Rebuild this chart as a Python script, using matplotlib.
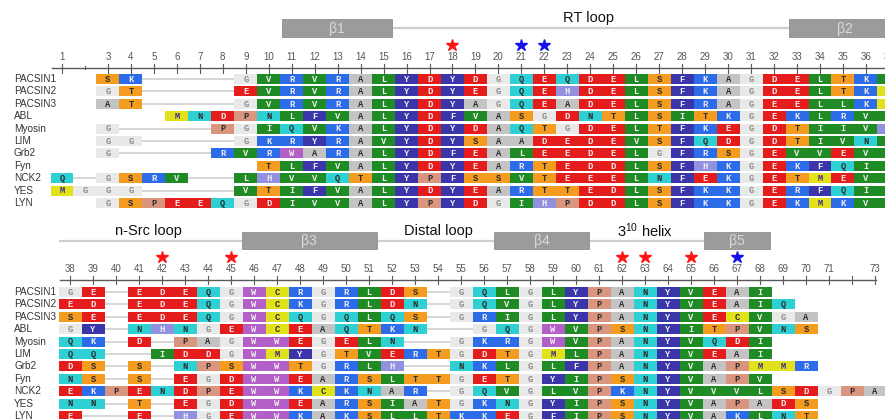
import matplotlib
matplotlib.use("Agg")
import matplotlib.pyplot as plt
from matplotlib.patches import Rectangle

plt.rcParams["mathtext.default"] = "regular"

# ---------------------------------------------------------------- data
names = ["PACSIN1", "PACSIN2", "PACSIN3", "ABL", "Myosin", "LIM",
         "Grb2", "Fyn", "NCK2", "YES", "LYN"]

# alignment columns 1-37 ('-' = gap)
seq_top = [
    "--SK----GVRVRALYDYDGQEQDELSFKAGDELTKV",
    "--GT----EVRVRALYDYEGQEHDELSFKAGDELTKC",
    "--AT----GVRVRALYDYAGQEADELSFRAGEELLKC",
    "-----MNDPNLFVALYDFVASGDNTLSITKGEKLRVV",
    "--G----PGIQVKALYDYDAQTGDELTFKEGDTIIVH",
    "--GG----GKRYRAVYDYSAADEDEVSFQDGDTIVNV",
    "--G----RVRWARALYDFEALEEDELGFRSGEVVEVI",
    "---------TLFVALYDYEARTEDDLSFHKGEKFQIL",
    "Q-GSRV--LHVVQTLYPFSSVTEEELNFEKGETMEVL",
    "MGGG----VTIFVALYDYEARTTEDLSFKKGERFQIL",
    "--GSPEEQGDIVVALYPYDGIHPDDLSFKKGEKMKVL",
]

# alignment columns 38-73
seq_bottom = [
    "GE-EDEQGWCRGRLDS-GQLGLYPANYVEAI-----",
    "ED-EDEQGWCKGRLDN-GQVGLYPANYVEAIQ----",
    "SE-EDEQGWCQGQLQS-GRIGLYPANYVECVGA---",
    "GY-NHNGEWCEAQTKN--GQGWVPSNYITPVNS---",
    "QK-D-PAGWWEGELN--GKRGWVPANYVQDI-----",
    "QQ--IDDGWMYGTVERTGDTGMLPANYVEAI-----",
    "DS-S-NPSWWTGRLH--NKLGLFPANYVAPMMR---",
    "NS-S-EGDWWEARSLTTGETGYIPSNYVAPV-----",
    "EKPENDPEWWKCKNAR-GQVGLVPKNYVVVLSDGPA",
    "NN-T-EGDWWEARSIATGKNGYIPSNYVAPADS---",
    "E--E-HGEWWKAKSLLTKKEGFIPSNYVAKLNT---",
]

top_first, bottom_first = 1, 38
top_numbered = [1] + list(range(3, 38))
bottom_numbered = list(range(38, 72)) + [73]
top_red_stars, top_blue_stars = [18], [21, 22]
bottom_red_stars, bottom_blue_stars = [42, 45, 62, 63, 65], [67]

# secondary structure (column ranges) and loop annotations
top_strands = [("β1", 10.58, 15.37), ("β2", 32.65, 37.5)]
top_loops = [("RT loop", 23.9)]
bottom_strands = [("β3", 45.48, 51.33), ("β4", 56.45, 60.55), ("β5", 65.55, 68.45)]
bottom_loops = [("n-Src loop", 41.4), ("Distal loop", 54.0), ("3$^{10}$ helix", 63.0)]

# ---------------------------------------------------------------- styling
residue_bg = {
    "S": "#f39c1f", "T": "#f39c1f",
    "K": "#2c6ce8", "R": "#2c6ce8",
    "G": "#e9e9e9",
    "A": "#c3c3c3",
    "V": "#1f8b24", "L": "#1f8b24", "I": "#1f8b24",
    "M": "#e2e21c", "C": "#e2e21c",
    "N": "#2fd0d4", "Q": "#2fd0d4",
    "D": "#e41c1c", "E": "#e41c1c",
    "P": "#d9957e",
    "F": "#3a35a8", "Y": "#3a35a8",
    "W": "#b35fc8",
    "H": "#9191e0",
}
dark_text = set("STANQPC")
residue_fg = {}
for aa in residue_bg:
    if aa in dark_text:
        residue_fg[aa] = "#2b2b2b"
    elif aa == "M":
        residue_fg[aa] = "#3b2a8c"
    elif aa == "G":
        residue_fg[aa] = "#8a8a8a"
    else:
        residue_fg[aa] = "#f1eef0"

W, H = 885, 419
fig = plt.figure(figsize=(W / 100, H / 100), dpi=100)
fig.patch.set_facecolor("white")

LABEL_FONT = ["Liberation Sans", "DejaVu Sans"]
NARROW_FONT = ["Liberation Sans Narrow", "Liberation Sans", "DejaVu Sans"]
MONO_FONT = ["Liberation Mono", "DejaVu Sans Mono"]
PITCH = 12.4
CELL_H = 10.2


def draw_panel(seqs, first_col, px_first, dx, row0, layout, numbered,
               red_stars, blue_stars, strands, loops, line_span, ruler_span):
    ax = fig.add_axes([0, 0, 1, 1])
    ax.set_facecolor("none")
    left = first_col - px_first / dx
    right = first_col + (W - px_first) / dx
    ax.set_xlim(left, right)
    ax.set_ylim(H, 0)
    ax.axis("off")

    ncol = len(seqs[0])
    cols = list(range(first_col, first_col + ncol))

    # header: loop line, strands, loop names
    yl = row0 + layout["box"]
    ax.plot(line_span, [yl, yl], color="#cfcfcf", lw=1.6, zorder=1,
            solid_capstyle="butt")
    bh = layout["box_h"]
    for label, x0, x1 in strands:
        ax.add_patch(Rectangle((x0, yl - bh / 2), x1 - x0, bh,
                               facecolor="#9b9b9b", edgecolor="#8f8f8f",
                               lw=0.6, zorder=2))
        ax.text((x0 + x1) / 2, yl + 0.5, label, ha="center", va="center",
                color="#d9d9d9", fontsize=10, family=NARROW_FONT, zorder=3)
    for label, xc in loops:
        ax.text(xc, row0 + layout["loop"], label, ha="center", va="center",
                color="#111111", fontsize=10.5, family=NARROW_FONT, zorder=3)

    # stars
    ys = row0 + layout["star"]
    ax.plot(red_stars, [ys] * len(red_stars), ls="none", marker="*",
            ms=9, color="#ff1414", mec="#ff1414", zorder=3)
    ax.plot(blue_stars, [ys] * len(blue_stars), ls="none", marker="*",
            ms=9, color="#1212e8", mec="#1212e8", zorder=3)

    # ruler
    yr = row0 + layout["ruler"]
    ax.plot(ruler_span, [yr, yr], color="#5a5a5a", lw=1.0, zorder=2)
    for c in cols:
        if c == 2:
            ax.plot([c, c], [yr - 2.0, yr + 0.5], color="#5a5a5a", lw=0.8)
        else:
            ax.plot([c, c], [yr - 4.2, yr + 4.2], color="#5a5a5a", lw=0.8)
    for c in numbered:
        ax.text(c, row0 + layout["num"], str(c), ha="center", va="center",
                fontsize=7, color="#555555", family=NARROW_FONT)

    # sequence rows
    for r, (name, s) in enumerate(zip(names, seqs)):
        y = row0 + r * PITCH
        ax.text(left + 14 / dx, y, name, ha="left", va="center",
                fontsize=7.2, color="#333333", family=LABEL_FONT)
        present = [i for i, ch in enumerate(s) if ch != "-"]
        a, b = present[0], present[-1]
        if b > a:
            ax.plot([cols[a], cols[b]], [y, y], color="#d6d6d6", lw=1.4,
                    zorder=1)
        for i in present:
            ch = s[i]
            ax.add_patch(Rectangle((cols[i] - 0.5, y - CELL_H / 2), 1, CELL_H,
                                   facecolor=residue_bg[ch], edgecolor="none",
                                   zorder=2))
            # letters whose cell lies mostly past the figure edge stay hidden
            if cols[i] + 0.2 < right:
                ax.text(cols[i], y + 0.3, ch, ha="center", va="center",
                        fontsize=6.3, fontweight="bold", family=MONO_FONT,
                        color=residue_fg[ch], zorder=3)
    return ax


draw_panel(seq_top, top_first, 62.0, 22.97, 79.0,
           {"ruler": -10.5, "num": -22.0, "star": -34.0, "box": -51.0,
            "box_h": 18.0, "loop": -61.0},
           top_numbered, top_red_stars, top_blue_stars, top_strands, top_loops,
           line_span=[top_strands[0][1], top_strands[1][1]],
           ruler_span=[0.56, 40])

draw_panel(seq_bottom, bottom_first, 70.0, 23.0, 292.0,
           {"ruler": -12.0, "num": -23.5, "star": -35.5, "box": -51.5,
            "box_h": 17.5, "loop": -61.0},
           bottom_numbered, bottom_red_stars, bottom_blue_stars,
           bottom_strands, bottom_loops,
           line_span=[37.52, bottom_strands[2][1]],
           ruler_span=[37.55, 73.05])

fig.savefig("out.png", dpi=100, facecolor="white")
